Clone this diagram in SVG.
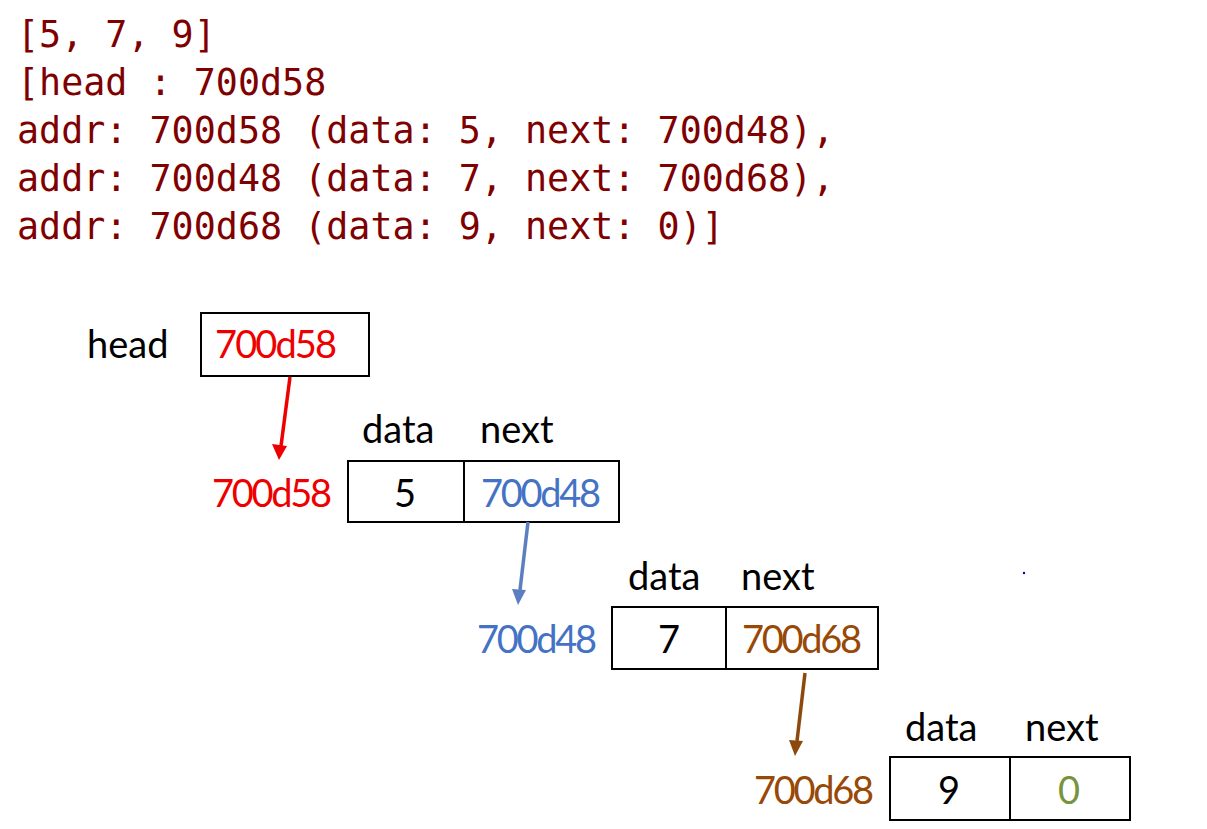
<svg xmlns="http://www.w3.org/2000/svg" width="1207" height="829" viewBox="0 0 1207 829">
<style>
.code{font-family:"DejaVu Sans Mono","Liberation Mono",monospace;font-size:36.7px;fill:#7f0000}
.t{font-family:Lato,"Liberation Sans",sans-serif;font-size:38px;fill:#000}
.box{fill:#fff;stroke:#000;stroke-width:2}
.red{fill:#ee0000}.blue{fill:#4472c4}.brown{fill:#984807}.green{fill:#77933c}
</style>
<rect width="1207" height="829" fill="#fff"/>
<g id="code">
<text class="code" x="17" y="47">[5, 7, 9]</text>
<text class="code" x="17" y="95">[head : 700d58</text>
<text class="code" x="17" y="143">addr: 700d58 (data: 5, next: 700d48),</text>
<text class="code" x="17" y="191">addr: 700d48 (data: 7, next: 700d68),</text>
<text class="code" x="17" y="239">addr: 700d68 (data: 9, next: 0)]</text>
</g>
<g id="head">
<text class="t" x="87" y="358">head</text>
<rect class="box" x="201" y="313" width="168" height="63"/>
<text class="t red" x="215" y="358" textLength="122">700d58</text>
</g>
<g id="node1">
<text class="t red" x="212" y="507" textLength="120">700d58</text>
<text class="t" x="362" y="443">data</text>
<text class="t" x="480" y="443">next</text>
<rect class="box" x="348" y="461" width="271" height="61"/>
<line x1="464" y1="461" x2="464" y2="522" stroke="#000" stroke-width="2"/>
<text class="t" x="405" y="507" text-anchor="middle">5</text>
<text class="t blue" x="481" y="507" textLength="120">700d48</text>
</g>
<g id="node2">
<text class="t blue" x="477" y="653" textLength="120">700d48</text>
<text class="t" x="628" y="590">data</text>
<text class="t" x="741" y="590">next</text>
<rect class="box" x="612" y="607" width="266" height="62"/>
<line x1="726" y1="607" x2="726" y2="669" stroke="#000" stroke-width="2"/>
<text class="t" x="669" y="653" text-anchor="middle">7</text>
<text class="t brown" x="742" y="653" textLength="120">700d68</text>
</g>
<g id="node3">
<text class="t brown" x="754" y="804" textLength="120">700d68</text>
<text class="t" x="905" y="741">data</text>
<text class="t" x="1025" y="741">next</text>
<rect class="box" x="890" y="757" width="240" height="63"/>
<line x1="1010" y1="757" x2="1010" y2="820" stroke="#000" stroke-width="2"/>
<text class="t" x="949" y="804" text-anchor="middle">9</text>
<text class="t green" x="1069" y="804" text-anchor="middle">0</text>
</g>
<g id="connectors">
<line x1="290" y1="377" x2="281" y2="446" stroke="#ee0000" stroke-width="3.5"/>
<path d="M272,444L279,460L287,446z" fill="#ee0000"/>
<line x1="528" y1="522" x2="520" y2="590" stroke="#5b7fc0" stroke-width="3.5"/>
<path d="M512,589L518,605L526,590z" fill="#5b7fc0"/>
<line x1="805" y1="673" x2="797" y2="741" stroke="#8b4a0c" stroke-width="3.5"/>
<path d="M789,740L795,756L803,741z" fill="#8b4a0c"/>
<circle cx="1024" cy="573" r="1.2" fill="#0000cc"/>
</g>
</svg>
